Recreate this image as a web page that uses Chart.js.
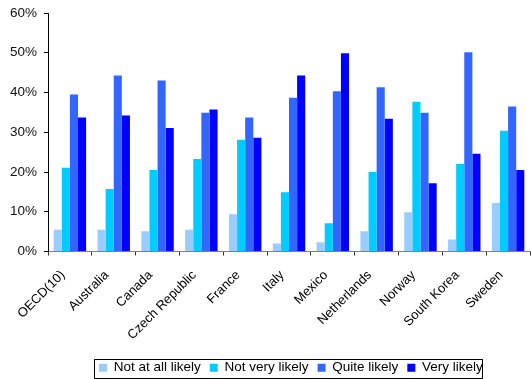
<!DOCTYPE html>
<html>
<head>
<meta charset="utf-8">
<script src="https://cdn.jsdelivr.net/npm/chart.js@4/dist/chart.umd.min.js"></script>
<style>
  html, body { margin: 0; padding: 0; background: #fff; }
  #wrap { width: 531px; height: 379px; position: relative; }
</style>
</head>
<body>
<div id="wrap"><canvas id="c" width="531" height="379"></canvas></div>
<script>
// Countries (plus the OECD average of ten countries)
const categories = ["OECD(10)", "Australia", "Canada", "Czech Republic", "France",
                    "Italy", "Mexico", "Netherlands", "Norway", "South Korea", "Sweden"];

// Share of respondents per answer, in percent
const notAtAllLikely = [5.5, 5.5, 5.1, 5.5, 9.4, 2.0, 2.3, 5.1, 9.9, 3.0, 12.2];
const notVeryLikely  = [21.1, 15.7, 20.5, 23.3, 28.1, 14.9, 7.1, 20.0, 37.7, 22.0, 30.4];
const quiteLikely    = [39.5, 44.3, 43.0, 34.9, 33.7, 38.7, 40.3, 41.3, 34.9, 50.1, 36.5];
const veryLikely     = [33.7, 34.2, 31.1, 35.7, 28.6, 44.3, 49.9, 33.4, 17.2, 24.6, 20.5];

const seriesNames = ["Not at all likely", "Not very likely", "Quite likely", "Very likely"];
const yTicks = [0, 10, 20, 30, 40, 50, 60];

const FONT = "'Liberation Sans', Arial, sans-serif";

// Moves the legend row into place and frames it with a thin box
const legendFrame = {
  id: 'legendFrame',
  afterLayout(chart) {
    const lg = chart.legend;
    if (!lg || !lg.lineWidths) return;
    const pad = lg.options.labels.padding;
    const start = (lg.left + pad + lg.right - lg.lineWidths[0]) / 2;
    const dx = 99 - start;
    lg.left += dx; lg.right += dx;
    const itemH = lg._itemHeight || 16;
    const centre = lg.top + pad + itemH / 2;
    const dy = 369 - centre;
    lg.top += dy; lg.bottom += dy;
  },
  afterDraw(chart) {
    const ctx = chart.ctx;
    ctx.save();
    ctx.strokeStyle = '#000';
    ctx.lineWidth = 1;
    ctx.strokeRect(94.5, 359.5, 388, 19);
    ctx.restore();
  }
};

new Chart(document.getElementById('c'), {
  type: 'bar',
  data: {
    labels: categories,
    datasets: [
      { label: seriesNames[0], data: notAtAllLikely, backgroundColor: '#99CCFF' },
      { label: seriesNames[1], data: notVeryLikely,  backgroundColor: '#00CCFF' },
      { label: seriesNames[2], data: quiteLikely,    backgroundColor: '#3366FF' },
      { label: seriesNames[3], data: veryLikely,     backgroundColor: '#0000FF' }
    ]
  },
  options: {
    responsive: false,
    animation: false,
    devicePixelRatio: 1,
    layout: { padding: { top: 13, right: 1, left: 0, bottom: 0 } },
    datasets: { bar: { categoryPercentage: 0.74, barPercentage: 1.0, borderWidth: 0 } },
    plugins: {
      tooltip: { enabled: false },
      legend: {
        position: 'bottom',
        labels: {
          boxWidth: 8, boxHeight: 8, padding: 9,
          color: '#000',
          font: { family: FONT, size: 13.5 }
        }
      }
    },
    scales: {
      x: {
        grid: { display: true, drawOnChartArea: false, offset: true, tickLength: 4, color: '#333' },
        border: { display: true, color: '#808080' },
        ticks: {
          autoSkip: false, minRotation: 45, maxRotation: 45, padding: 12, labelOffset: -7,
          color: '#000', font: { family: FONT, size: 13 }
        },
        afterFit(scale) {
          scale.height = 95;
          scale.paddingLeft = 0; scale.paddingRight = 0;
        }
      },
      y: {
        min: 0, max: 60,
        grid: { display: true, drawOnChartArea: false, tickLength: 4, color: '#000' },
        border: { display: true, color: '#000' },
        afterBuildTicks(scale) { scale.ticks = yTicks.map(v => ({ value: v })); },
        ticks: {
          padding: 7, color: '#111',
          font: { family: FONT, size: 13.5 },
          callback: v => v + '%'
        },
        afterFit(scale) {
          scale.width = 48;
          scale.paddingTop = 0; scale.paddingBottom = 0;
        }
      }
    }
  },
  plugins: [legendFrame]
});
</script>
</body>
</html>
